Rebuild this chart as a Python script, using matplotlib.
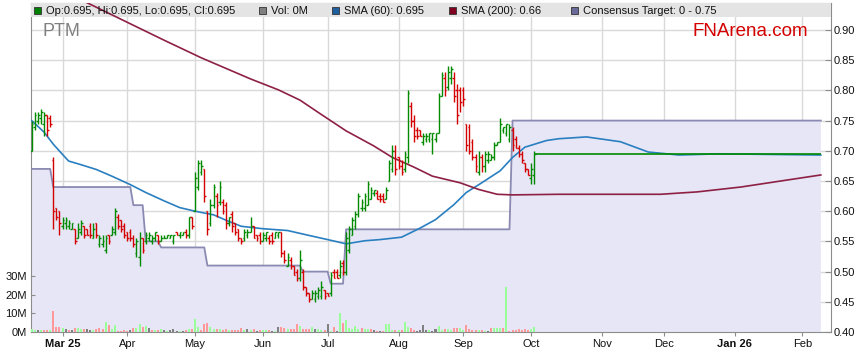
"""PTM daily bar chart with volume, SMA(60), SMA(200) and consensus target band."""
import matplotlib
matplotlib.use("Agg")
import matplotlib.pyplot as plt
import numpy as np
import pandas as pd
from matplotlib.collections import LineCollection
from matplotlib.patches import Rectangle

plt.rcParams['font.family'] = ['Liberation Sans', 'DejaVu Sans']

W, H = 859, 363

start, end = "2025-02-17", "2026-02-10"

# daily OHLC from 2025-02-17 (business days)
op = [.700, .740, .750, .755, .745, .760, .755, .685, .605, .600,
      .575, .580, .575, .570, .570, .555, .565, .575, .570, .575,
      .555, .580, .545, .545, .535, .560, .560, .565, .590, .585,
      .575, .565, .565, .555, .530, .525, .555, .550, .555, .550,
      .555, .560, .550, .555, .555, .555, .550, .565, .560, .560,
      .565, .560, .590, .600, .640, .665, .670, .600, .580, .610,
      .625, .615, .615, .610, .580, .595, .580, .570, .555, .555,
      .560, .565, .575, .560, .560, .550, .555, .555, .560, .555,
      .560, .565, .530, .510, .520, .510, .500, .490, .500, .475,
      .465, .455, .455, .460, .460, .470, .465, .465, .500, .500,
      .495, .515, .500, .535, .560, .575, .595, .605, .605, .610,
      .620, .630, .630, .625, .625, .620, .650, .670, .700, .690,
      .675, .670, .690, .775, .750, .735, .735, .715, .720, .720,
      .720, .720, .730, .790, .820, .805, .820, .820, .800, .800,
      .800, .745, .740, .715, .690, .665, .690, .675, .685, .685,
      .690, .710, .715, .735, .730, .720, .735, .720, .705, .695,
      .680, .670, .655, .660]
hi = [.750, .765, .765, .770, .765, .760, .760, .690, .605, .600,
      .590, .590, .585, .580, .570, .580, .585, .575, .570, .580,
      .580, .580, .560, .560, .560, .560, .575, .605, .595, .585,
      .580, .565, .570, .560, .555, .565, .555, .565, .565, .560,
      .565, .560, .560, .560, .560, .560, .560, .565, .565, .565,
      .570, .590, .590, .665, .685, .685, .670, .600, .620, .645,
      .630, .650, .620, .615, .590, .600, .580, .570, .555, .570,
      .570, .590, .575, .560, .565, .565, .565, .560, .565, .565,
      .565, .565, .535, .530, .525, .510, .505, .535, .505, .475,
      .465, .470, .470, .475, .485, .470, .465, .500, .505, .505,
      .520, .520, .565, .575, .590, .600, .630, .620, .630, .650,
      .640, .635, .635, .630, .630, .640, .685, .710, .710, .690,
      .685, .700, .800, .780, .760, .740, .735, .730, .730, .730,
      .730, .730, .795, .830, .830, .840, .840, .830, .810, .805,
      .805, .745, .745, .720, .695, .700, .695, .700, .700, .695,
      .715, .715, .755, .740, .745, .745, .740, .725, .710, .700,
      .680, .670, .680, .700]
lo = [.700, .735, .745, .745, .725, .725, .740, .570, .585, .560,
      .570, .570, .570, .570, .545, .555, .560, .555, .560, .555,
      .555, .555, .540, .540, .530, .545, .560, .560, .570, .565,
      .555, .550, .550, .540, .525, .510, .530, .545, .550, .545,
      .550, .545, .550, .555, .555, .555, .545, .560, .555, .560,
      .555, .555, .570, .600, .635, .660, .615, .560, .575, .605,
      .590, .610, .595, .570, .575, .565, .560, .550, .545, .550,
      .555, .565, .555, .550, .545, .550, .550, .545, .545, .555,
      .555, .525, .515, .510, .505, .495, .485, .485, .470, .460,
      .450, .455, .450, .455, .455, .455, .460, .460, .490, .490,
      .490, .495, .495, .530, .560, .570, .590, .600, .600, .610,
      .620, .625, .620, .615, .615, .620, .650, .665, .660, .670,
      .660, .665, .680, .740, .715, .720, .725, .710, .715, .715,
      .695, .715, .730, .790, .790, .800, .810, .780, .745, .765,
      .775, .700, .695, .685, .665, .660, .665, .665, .680, .685,
      .685, .710, .715, .730, .725, .715, .700, .705, .690, .680,
      .665, .660, .645, .645]
cl = [.745, .760, .760, .765, .760, .735, .745, .600, .590, .580,
      .585, .585, .580, .580, .550, .570, .580, .560, .560, .560,
      .570, .560, .555, .550, .555, .550, .570, .600, .575, .570,
      .560, .555, .555, .545, .550, .555, .535, .560, .560, .555,
      .565, .550, .555, .555, .560, .560, .560, .560, .565, .565,
      .560, .590, .575, .655, .680, .675, .625, .570, .610, .640,
      .610, .640, .600, .580, .590, .575, .565, .555, .550, .565,
      .565, .575, .555, .555, .550, .560, .565, .550, .550, .565,
      .565, .530, .520, .525, .510, .495, .490, .520, .475, .465,
      .455, .465, .465, .470, .475, .460, .460, .495, .490, .490,
      .510, .500, .555, .570, .585, .595, .625, .615, .625, .645,
      .635, .635, .620, .620, .615, .635, .680, .700, .670, .675,
      .665, .695, .795, .750, .725, .725, .725, .725, .725, .730,
      .730, .730, .790, .825, .800, .830, .835, .790, .760, .780,
      .785, .710, .700, .690, .675, .690, .675, .695, .695, .690,
      .710, .715, .745, .740, .745, .740, .710, .705, .695, .685,
      .670, .660, .670, .695]
# volume, millions
vol_m = [1.5, 1.1, 1.1, 1.1, 1.1, 1.1, 1.1, 11.0, 2.9, 2.9,
         2.0, 1.5, 1.1, 1.1, 2.2, 2.2, 1.6, 1.6, 1.6, 1.3,
         1.3, 1.8, 2.2, 1.8, 5.6, 3.5, 1.6, 3.5, 0.7, 0.7,
         1.1, 0.5, 1.1, 2.0, 2.4, 4.5, 2.7, 3.3, 2.4, 1.1,
         1.1, 1.3, 1.6, 0.9, 0.4, 1.3, 1.6, 0.7, 0.5, 0.7,
         1.3, 1.8, 1.6, 7.1, 2.5, 1.1, 4.4, 4.9, 2.7, 1.6,
         1.6, 1.6, 1.1, 1.6, 1.1, 1.3, 1.1, 1.1, 2.2, 1.1,
         1.5, 1.1, 1.6, 0.5, 1.1, 1.1, 1.1, 1.1, 0.5, 0.7,
         2.5, 2.5, 2.0, 1.5, 1.5, 1.5, 4.3, 3.2, 1.5, 1.5,
         1.5, 2.5, 1.6, 1.8, 1.0, 1.0, 4.3, 0.7, 2.5, 0.5,
         10.2, 4.6, 6.4, 2.1, 1.5, 3.2, 1.5, 2.0, 1.5, 1.8,
         1.5, 1.1, 0.7, 0.7, 0.5, 4.3, 4.3, 1.1, 1.1, 1.1,
         1.1, 5.4, 2.5, 2.0, 0.9, 0.7, 1.1, 3.8, 1.1, 1.1,
         0.7, 1.5, 3.0, 1.1, 1.8, 1.5, 1.0, 2.3, 2.3, 2.3,
         1.3, 3.8, 1.8, 1.3, 1.1, 0.9, 1.1, 0.7, 0.5, 2.0,
         2.3, 2.0, 2.0, 2.0, 24.0, 0.5, 1.1, 1.1, 1.5, 1.1,
         1.5, 1.1, 1.5, 2.7]

# consensus target (change points)
target_dates = ["2025-02-17", "2025-02-25", "2025-02-26", "2025-04-02", "2025-04-03",
                "2025-04-08", "2025-04-09", "2025-04-15", "2025-04-16", "2025-05-06",
                "2025-05-07", "2025-06-18", "2025-06-19", "2025-07-01", "2025-07-02",
                "2025-07-08", "2025-07-09", "2025-09-22", "2025-09-23", "2026-02-10"]
target_vals = [.67, .67, .64, .64, .61, .61, .55, .55, .54, .54,
               .51, .51, .50, .50, .48, .48, .57, .57, .75, .75]

sma60_dates = ["2025-02-17", "2025-02-21", "2025-02-26", "2025-03-03", "2025-03-05",
               "2025-03-11", "2025-03-18", "2025-03-25", "2025-04-02", "2025-04-09",
               "2025-04-17", "2025-04-24", "2025-05-01", "2025-05-09", "2025-05-16",
               "2025-05-22", "2025-06-02", "2025-06-12", "2025-06-20", "2025-07-01",
               "2025-07-09", "2025-07-17", "2025-07-24", "2025-08-04", "2025-08-12",
               "2025-08-19", "2025-08-27", "2025-09-02", "2025-09-09", "2025-09-17",
               "2025-09-23", "2025-09-29", "2025-10-08", "2025-10-14", "2025-10-27",
               "2025-11-11", "2025-11-24", "2025-12-08", "2025-12-25", "2026-02-10"]
sma60_vals = [.750, .731, .711, .694, .683, .677, .669, .658, .644, .631,
              .617, .606, .600, .594, .583, .575, .571, .568, .561, .553,
              .546, .551, .553, .557, .572, .586, .611, .631, .647, .667,
              .689, .706, .717, .720, .723, .715, .698, .693, .695, .693]

sma200_dates = ["2025-02-17", "2025-03-11", "2025-04-17", "2025-05-05", "2025-05-27",
                "2025-06-09", "2025-06-18", "2025-06-27", "2025-07-09", "2025-07-22",
                "2025-07-30", "2025-08-08", "2025-08-18", "2025-08-29", "2025-09-08",
                "2025-09-16", "2025-09-23", "2025-10-14", "2025-11-28", "2025-12-16",
                "2026-01-05", "2026-01-22", "2026-02-10"]
sma200_vals = [.990, .950, .883, .854, .819, .801, .784, .760, .733, .708,
               .689, .673, .658, .647, .636, .628, .627, .628, .628, .632,
               .640, .650, .660]

month_ticks = ["2025-03-03", "2025-04-01", "2025-05-01", "2025-06-02", "2025-07-01",
               "2025-08-01", "2025-09-01", "2025-10-01", "2025-11-03", "2025-12-01",
               "2026-01-01", "2026-02-02"]
month_labels = ["Mar 25", "Apr", "May", "Jun", "Jul", "Aug", "Sep", "Oct",
                "Nov", "Dec", "Jan 26", "Feb"]
bold_labels = {"Mar 25", "Jan 26"}

price_ticks = [.40, .45, .50, .55, .60, .65, .70, .75, .80, .85, .90]
vol_ticks = [0, 10, 20, 30]

GREEN, RED = "#008a00", "#d40000"
GRID = "#d9d9d9"
SPINE = "#8c8c8c"


def main():
    days = pd.bdate_range(start, end)
    pos = pd.Series(np.arange(len(days)), index=days)

    def idx(ds):
        return pos[pd.to_datetime(ds)].to_numpy()

    x = np.arange(len(cl))
    o, h, l, c = map(np.asarray, (op, hi, lo, cl))
    prev = np.concatenate([[o[0]], c[:-1]])

    rect = [31 / W, (H - 332) / H, 800 / W, 329 / H]
    xlim = (-0.22, 259.3)
    ylim = (0.40, 0.40 + 329 / 604)

    fig = plt.figure(figsize=(W / 100, H / 100), dpi=100, facecolor="white")

    # background axes: grid, target band, price ticks (right)
    ax = fig.add_axes(rect)
    ax.set_xlim(*xlim)
    ax.set_ylim(*ylim)
    ax.set_yticks(price_ticks)
    ax.set_yticklabels([f"{v:.2f}" for v in price_ticks])
    ax.set_xticks(idx(month_ticks))
    ax.set_xticklabels(month_labels)
    for t in ax.get_xticklabels():
        if t.get_text() in bold_labels:
            t.set_fontweight("bold")
    ax.grid(True, color=GRID, lw=1.0, zorder=0)
    ax.set_axisbelow(True)
    ti = idx(target_dates)
    ax.fill_between(ti, 0, target_vals, color="#e6e6f6", lw=0, zorder=2)
    ax.plot(ti, target_vals, color="#8a8ab2", lw=1.3, zorder=3)
    ax.add_patch(Rectangle((0, 1 - 14 / 329), 1, 14 / 329, transform=ax.transAxes,
                           facecolor="#e4e4e4", edgecolor="none", zorder=4))
    for s in ax.spines.values():
        s.set_color(SPINE)

    # volume axes (left labels)
    axv = ax.twinx()
    ax.yaxis.tick_right()
    ax.tick_params(axis="y", direction="in", length=4, pad=2, labelsize=8,
                   colors=SPINE, labelcolor="#111111")
    ax.tick_params(axis="x", direction="out", length=3, pad=2, labelsize=8,
                   colors=SPINE, labelcolor="#111111")
    axv.yaxis.tick_left()
    axv.set_ylim(0, 329 / 1.867)
    axv.set_yticks(vol_ticks)
    axv.set_yticklabels([f"{v}M" for v in vol_ticks])
    axv.tick_params(axis="y", direction="in", length=3, pad=3, labelsize=8,
                    colors=SPINE, labelcolor="#111111")
    vcol = np.where(c > prev + 1e-9, "#99ff99", np.where(c < prev - 1e-9, "#ff9999", "#808080"))
    axv.bar(x, vol_m, width=0.65, color=vcol, lw=0, zorder=2)
    for s in axv.spines.values():
        s.set_visible(False)

    # top axes: price bars and averages
    axt = fig.add_axes(rect, sharex=ax)
    axt.set_ylim(*ylim)
    axt.set_axis_off()
    axt.patch.set_visible(False)

    up = np.where(c > o, True, np.where(c < o, False, c >= prev))
    segs, cols = [], []
    for xi, oi, hi_, li, ci, u in zip(x, o, h, l, c, up):
        col = GREEN if u else RED
        segs += [[(xi, li), (xi, hi_)], [(xi - 0.55, oi), (xi, oi)], [(xi, ci), (xi + 0.55, ci)]]
        cols += [col] * 3
    axt.add_collection(LineCollection(segs, colors=cols, linewidths=1.0, zorder=5))

    axt.plot(idx(sma60_dates), sma60_vals, color="#2a7fc0", lw=1.2, zorder=4)
    axt.plot(idx(sma200_dates), sma200_vals, color="#8e2044", lw=1.2, zorder=4)
    axt.hlines(c[-1], x[-1], len(days) - 1, color=GREEN, lw=1.2, zorder=4)

    # watermarks
    fig.text(42 / W, 1 - 32 / H, "PTM", fontsize=13, color="#808080", va="center", ha="left")
    fig.text(808 / W, 1 - 32 / H, "FNArena.com", fontsize=13.5, color="#d40000",
             va="center", ha="right")

    # header legend
    items = [(34, "#008000", f"Op:{c[-1]:.3f}, Hi:{c[-1]:.3f}, Lo:{c[-1]:.3f}, Cl:{c[-1]:.3f}"),
             (259, "#808080", "Vol: 0M"),
             (332, "#1f5f9f", f"SMA (60): {c[-1]:.3f}"),
             (449, "#800020", f"SMA (200): {sma200_vals[-1]:.2f}"),
             (571, "#6a6a9a", f"Consensus Target: 0 - {target_vals[-1]:.2f}")]
    for px, colr, label in items:
        fig.patches.append(Rectangle((px / W, 1 - 14 / H), 7 / W, 7 / H, transform=fig.transFigure,
                                     facecolor=colr, edgecolor="#333333", lw=0.6))
        fig.text((px + 12) / W, 1 - 10.5 / H, label, fontsize=8, color="#111111",
                 va="center", ha="left")

    fig.savefig("out.png", dpi=100, facecolor="white")
    plt.close(fig)


if __name__ == "__main__":
    main()
